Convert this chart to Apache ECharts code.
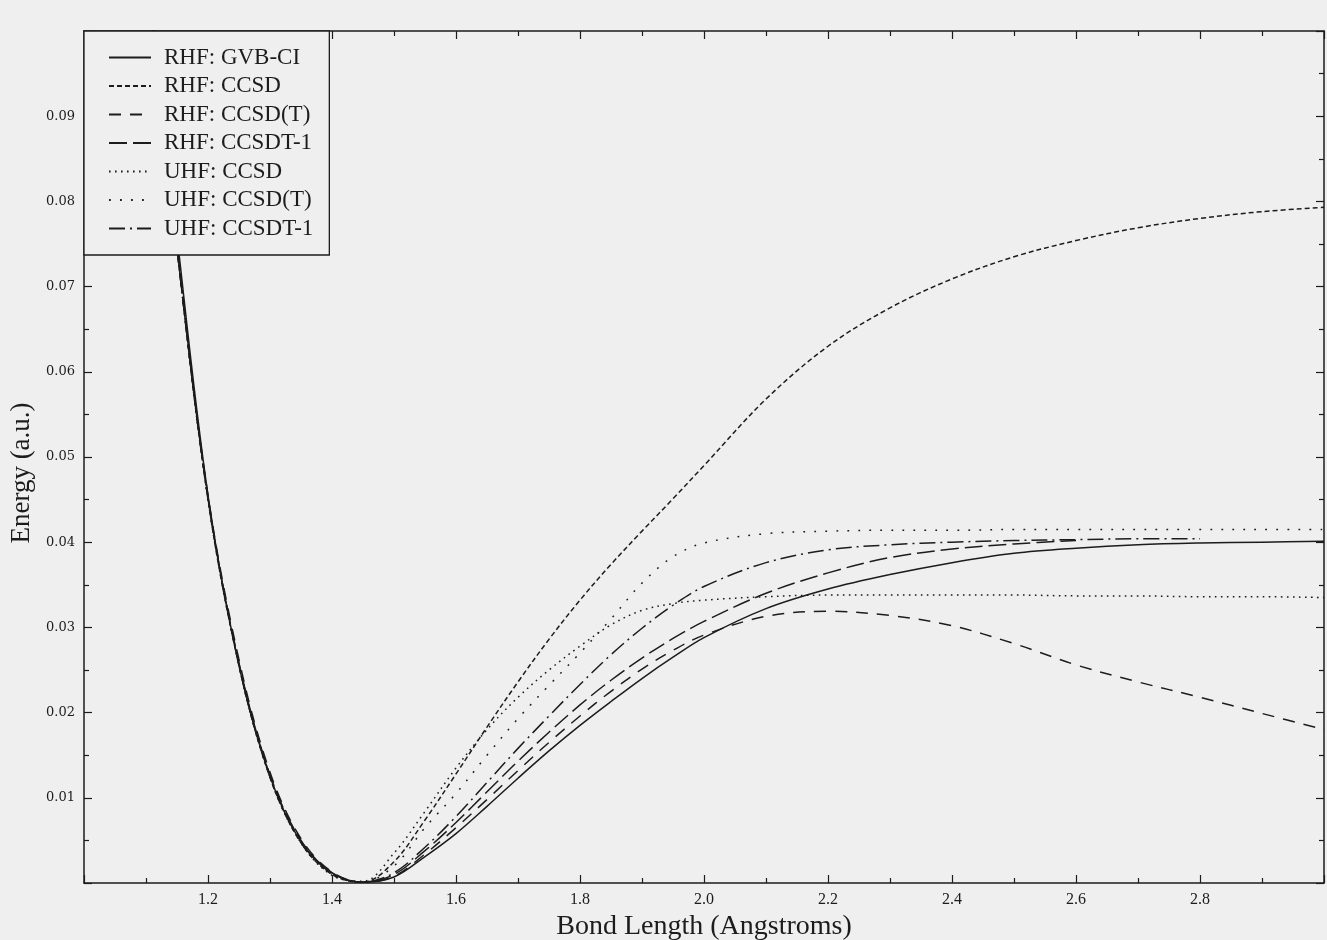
<!DOCTYPE html>
<html>
<head>
<meta charset="utf-8">
<script src="https://cdn.jsdelivr.net/npm/echarts@6/dist/echarts.min.js"></script>
<style>
html,body{margin:0;padding:0;background:#efefef;}
#chart{width:1327px;height:940px;}
</style>
</head>
<body>
<div id="chart"></div>
<script>
// Bond lengths (Angstroms) at which values were read
const bondLength = [1.10,1.15,1.20,1.25,1.30,1.35,1.40,1.45,1.50,1.55,1.60,1.65,1.70,1.75,1.80,1.85,1.90,1.95,2.00,2.10,2.20,2.30,2.40,2.50,2.60,2.70,2.80,2.90,3.00];

const seriesNames = ['RHF: GVB-CI','RHF: CCSD','RHF: CCSD(T)','RHF: CCSDT-1','UHF: CCSD','UHF: CCSD(T)','UHF: CCSDT-1'];

const rhfGvbCi   = [0.110,0.0760,0.0455,0.0255,0.0125,0.0048,0.0012,0.0001,0.0007,0.0031,0.0058,0.0090,0.0123,0.0155,0.0185,0.0213,0.0240,0.0265,0.0288,0.0322,0.0345,0.0362,0.0376,0.0387,0.0393,0.0397,0.0399,0.0400,0.0401];
const rhfCcsd    = [0.108,0.0745,0.0450,0.0255,0.0124,0.0047,0.0010,0.0001,0.0025,0.0074,0.0128,0.0183,0.0236,0.0286,0.0332,0.0374,0.0413,0.0451,0.0490,0.0568,0.0630,0.0675,0.0709,0.0735,0.0754,0.0769,0.0780,0.0788,0.0793];
const rhfCcsdT   = [0.108,0.0745,0.0455,0.0262,0.0130,0.0052,0.0013,0.0001,0.0008,0.0034,0.0065,0.0098,0.0132,0.0165,0.0196,0.0225,0.0251,0.0273,0.0291,0.0313,0.0319,0.0314,0.0302,0.0281,0.0256,0.0236,0.0218,0.0199,0.0180];
const rhfCcsdt1  = [0.108,0.0745,0.0452,0.0258,0.0127,0.0050,0.0012,0.0001,0.0010,0.0038,0.0071,0.0107,0.0143,0.0177,0.0209,0.0238,0.0264,0.0287,0.0307,0.0340,0.0364,0.0382,0.0392,0.0398,0.0402,null,null,null,null];
const uhfCcsd    = [0.108,0.0745,0.0450,0.0255,0.0124,0.0047,0.0009,0.0002,0.0035,0.0084,0.0135,0.0180,0.0218,0.0250,0.0278,0.0303,0.0320,0.0328,0.0332,0.0336,0.0338,0.0338,0.0338,0.0338,0.0337,0.0337,0.0336,0.0336,0.0335];
const uhfCcsdT   = [0.108,0.0745,0.0450,0.0255,0.0124,0.0047,0.0010,0.0001,0.0020,0.0065,0.0105,0.0150,0.0193,0.0232,0.0270,0.0310,0.0352,0.0383,0.0399,0.0410,0.0413,0.0414,0.0414,0.0415,0.0415,0.0415,0.0415,0.0415,0.0415];
const uhfCcsdt1  = [0.108,0.0745,0.0452,0.0257,0.0126,0.0049,0.0011,0.0001,0.0012,0.0042,0.0078,0.0118,0.0158,0.0196,0.0233,0.0268,0.0299,0.0326,0.0348,0.0376,0.0391,0.0397,0.0400,0.0402,0.0403,0.0404,0.0404,null,null];

const seriesValues = [rhfGvbCi, rhfCcsd, rhfCcsdT, rhfCcsdt1, uhfCcsd, uhfCcsdT, uhfCcsdt1];
const dashStyles = ['solid',[5,3],[12,9],[18,6],[1.6,4.4],[1.8,9.2],[16,5,2,5]];

const INK = '#1c1c1c';
const BG = '#efefef';

function pairs(vals){
  const out = [];
  for (let i=0;i<bondLength.length;i++){ if (vals[i]!==null) out.push([bondLength[i], vals[i]]); }
  return out;
}

const series = seriesNames.map((name,i)=>({
  name: name,
  type: 'line',
  data: pairs(seriesValues[i]),
  xAxisIndex: 0, yAxisIndex: 0,
  symbol: 'none',
  smooth: 0.35,
  clip: true,
  lineStyle: {color: INK, width: 1.5, type: dashStyles[i]},
  itemStyle: {color: INK}
}));

const serif = '"Liberation Serif", "Times New Roman", serif';

const xCommon = {
  type: 'value', min: 1.0, max: 3.0, interval: 0.2,
  axisLine: {show: true, onZero: false, lineStyle: {color: INK, width: 1.5}},
  axisTick: {show: true, inside: true, length: 8, lineStyle: {color: INK, width: 1.2}},
  minorTick: {show: true, splitNumber: 2, length: 5, lineStyle: {color: INK, width: 1.2}},
  splitLine: {show: false}
};
const yCommon = {
  type: 'value', min: 0, max: 0.1, interval: 0.01,
  axisLine: {show: true, onZero: false, lineStyle: {color: INK, width: 1.5}},
  axisTick: {show: true, inside: true, length: 8, lineStyle: {color: INK, width: 1.2}},
  minorTick: {show: true, splitNumber: 2, length: 5, lineStyle: {color: INK, width: 1.2}},
  splitLine: {show: false}
};

const option = {
  animation: false,
  backgroundColor: BG,
  grid: {left: 84, right: 3, top: 31, bottom: 57, containLabel: false, outerBoundsMode: 'none'},
  xAxis: [
    Object.assign({}, xCommon, {
      position: 'bottom',
      name: 'Bond Length (Angstroms)', nameLocation: 'middle', nameGap: 20,
      nameTextStyle: {fontFamily: serif, fontSize: 28, color: INK},
      axisLabel: {show: true, margin: 9, fontFamily: serif, fontSize: 16, color: INK,
        formatter: v => (v < 1.05 || v > 2.95) ? '' : v.toFixed(1)}
    }),
    Object.assign({}, xCommon, {position: 'top', axisLabel: {show: false}})
  ],
  yAxis: [
    Object.assign({}, yCommon, {
      position: 'left',
      name: 'Energy (a.u.)', nameLocation: 'middle', nameGap: 46, nameRotate: 90,
      nameTextStyle: {fontFamily: serif, fontSize: 27, color: INK, padding: [0, 32, 0, 0]},
      axisLabel: {show: true, margin: 9, fontFamily: '"DejaVu Serif", serif', fontSize: 13, color: INK,
        formatter: v => (v < 0.005 || v > 0.095) ? '' : v.toFixed(2)}
    }),
    Object.assign({}, yCommon, {position: 'right', axisLabel: {show: false}})
  ],
  legend: {
    show: true,
    orient: 'vertical',
    left: 84, top: 31,
    padding: [15, 16, 15, 24],
    itemWidth: 42, itemHeight: 14, itemGap: 5.5,
    backgroundColor: BG,
    borderColor: INK, borderWidth: 1.3, borderRadius: 0,
    itemStyle: {opacity: 0, borderWidth: 0},
    lineStyle: {opacity: 1},
    textStyle: {fontFamily: serif, fontSize: 23, lineHeight: 23, color: INK, padding: [0,0,0,8]},
    data: seriesNames,
    z: 10
  },
  series: series
};

const chart = echarts.init(document.getElementById('chart'), null, {renderer: 'canvas'});
chart.setOption(option);
</script>
</body>
</html>
